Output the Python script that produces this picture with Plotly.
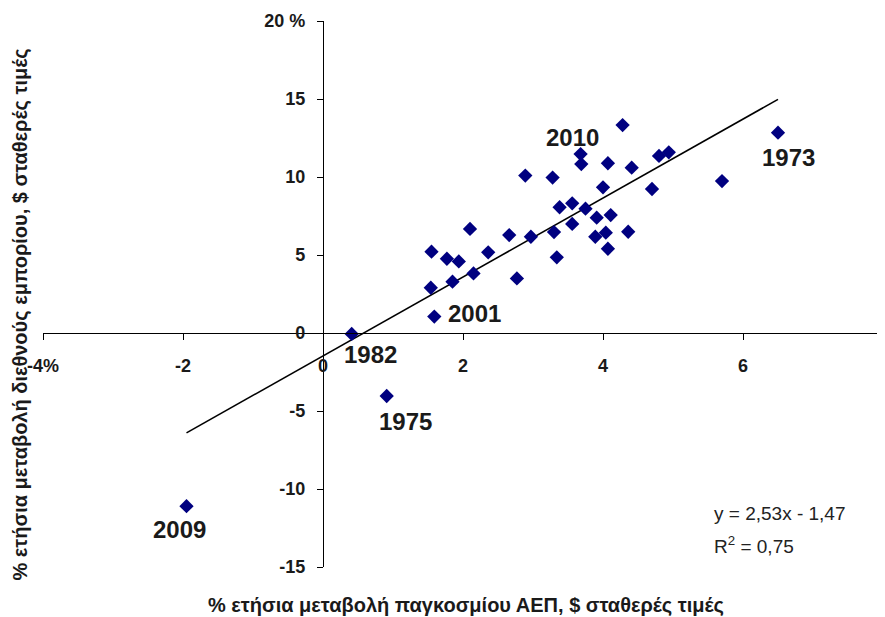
import plotly.graph_objects as go

# % annual change in world GDP (x) and world trade (y), constant $
gdp_growth = [4.28, 3.68, 3.69, 4.07, 4.41, 4.80, 4.94, 2.89, 3.28, 4.00,
              4.70, 3.38, 3.56, 3.75, 3.91, 4.11, 3.56, 3.89, 4.04, 4.07,
              4.36, 3.30, 3.34, 2.97, 2.66, 2.77, 2.36, 2.10, 2.15, 1.94,
              1.77, 1.55, 1.85, 1.54, 1.59, 0.41, 0.91, -1.95, 6.50, 5.70]
trade_growth = [13.33, 11.47, 10.83, 10.88, 10.60, 11.35, 11.58, 10.09, 9.96, 9.34,
                9.23, 8.06, 8.31, 7.97, 7.39, 7.56, 6.99, 6.17, 6.43, 5.40,
                6.49, 6.47, 4.85, 6.17, 6.28, 3.50, 5.17, 6.67, 3.82, 4.59,
                4.76, 5.21, 3.29, 2.90, 1.05, -0.06, -4.04, -11.10, 12.84, 9.74]

# labelled years and the index of their point
label_years = ["2010", "2001", "1982", "1975", "2009", "1973"]
label_index = [1, 34, 35, 36, 37, 38]

# linear trend as printed on the chart
slope = 2.53
intercept = -1.47
equation_text = "y = 2,53x - 1,47"
r2_text = "R<sup>2</sup> = 0,75"

x_ticks = [-4, -2, 0, 2, 4, 6, 8]
x_ticktext = ["-4%", "-2", "0", "2", "4", "6", "8"]
y_ticks = [-15, -10, -5, 0, 5, 10, 15, 20]
y_ticktext = ["-15", "-10", "-5", "0", "5", "10", "15", "20 %"]

x_range = [-4, 8]
y_range = [-15, 20]

FONT = "Liberation Sans, Arial, sans-serif"
TXT = "#1a1a1a"

fig = go.Figure()

x_line = [min(gdp_growth), max(gdp_growth)]
fig.add_trace(go.Scatter(
    x=x_line, y=[slope * v + intercept for v in x_line],
    mode="lines", line=dict(color="black", width=1.6),
    hoverinfo="skip", showlegend=False
))

fig.add_trace(go.Scatter(
    x=gdp_growth, y=trade_growth, mode="markers",
    marker=dict(symbol="diamond", size=11, color="#000080"),
    showlegend=False
))

# label offsets in pixels (xshift, yshift)
shifts = [(-8, 17), (40, 3), (19, -21), (19, -25), (-7, -23), (10, -25)]
for year, idx, (dx, dy) in zip(label_years, label_index, shifts):
    fig.add_annotation(
        x=gdp_growth[idx], y=trade_growth[idx], text=year, showarrow=False,
        xshift=dx, yshift=dy,
        font=dict(family=FONT, size=24, color=TXT, weight="bold")
    )

fig.add_annotation(x=5.56, y=-11.55, text=equation_text, showarrow=False,
                   xanchor="left", yanchor="middle",
                   font=dict(family=FONT, size=19, color="#222"))
fig.add_annotation(x=5.56, y=-13.6, text=r2_text, showarrow=False,
                   xanchor="left", yanchor="middle",
                   font=dict(family=FONT, size=19, color="#222"))

# axis titles
fig.add_annotation(xref="paper", yref="paper", x=0.5036, y=-0.07,
                   text="% ετήσια μεταβολή παγκοσμίου ΑΕΠ, $ σταθερές τιμές",
                   showarrow=False, yanchor="middle",
                   font=dict(family=FONT, size=20, color=TXT, weight="bold"))
fig.add_annotation(xref="paper", yref="paper", x=-0.027, y=0.463,
                   text="% ετήσια μεταβολή διεθνούς εμπορίου, $ σταθερές τιμές",
                   showarrow=False, textangle=-90, xanchor="center",
                   font=dict(family=FONT, size=20, color=TXT, weight="bold"))

axis_font = dict(family=FONT, size=18, color=TXT, weight="bold")

fig.update_xaxes(
    range=x_range, tickvals=x_ticks, ticktext=x_ticktext,
    anchor="free", position=(0 - y_range[0]) / (y_range[1] - y_range[0]),
    showgrid=False, zeroline=False, showline=True, linecolor="black", linewidth=1.3,
    ticks="outside", ticklen=6, tickcolor="black", tickwidth=1.3,
    ticklabelstandoff=10, tickfont=axis_font, automargin=False,
    ticklabeloverflow="allow"
)
fig.update_yaxes(
    range=y_range, tickvals=y_ticks, ticktext=y_ticktext,
    anchor="free", position=(0 - x_range[0]) / (x_range[1] - x_range[0]),
    showgrid=False, zeroline=False, showline=True, linecolor="black", linewidth=1.3,
    ticks="outside", ticklen=6, tickcolor="black", tickwidth=1.3,
    ticklabelstandoff=8, tickfont=axis_font, automargin=False,
    ticklabeloverflow="allow"
)

# the page body adds an 8px margin, so the figure is 8px smaller each way
fig.update_layout(
    width=877, height=609,
    margin=dict(l=35, r=2, t=13, b=50),
    plot_bgcolor="white", paper_bgcolor="white",
    showlegend=False
)

fig.write_html("out.html")
